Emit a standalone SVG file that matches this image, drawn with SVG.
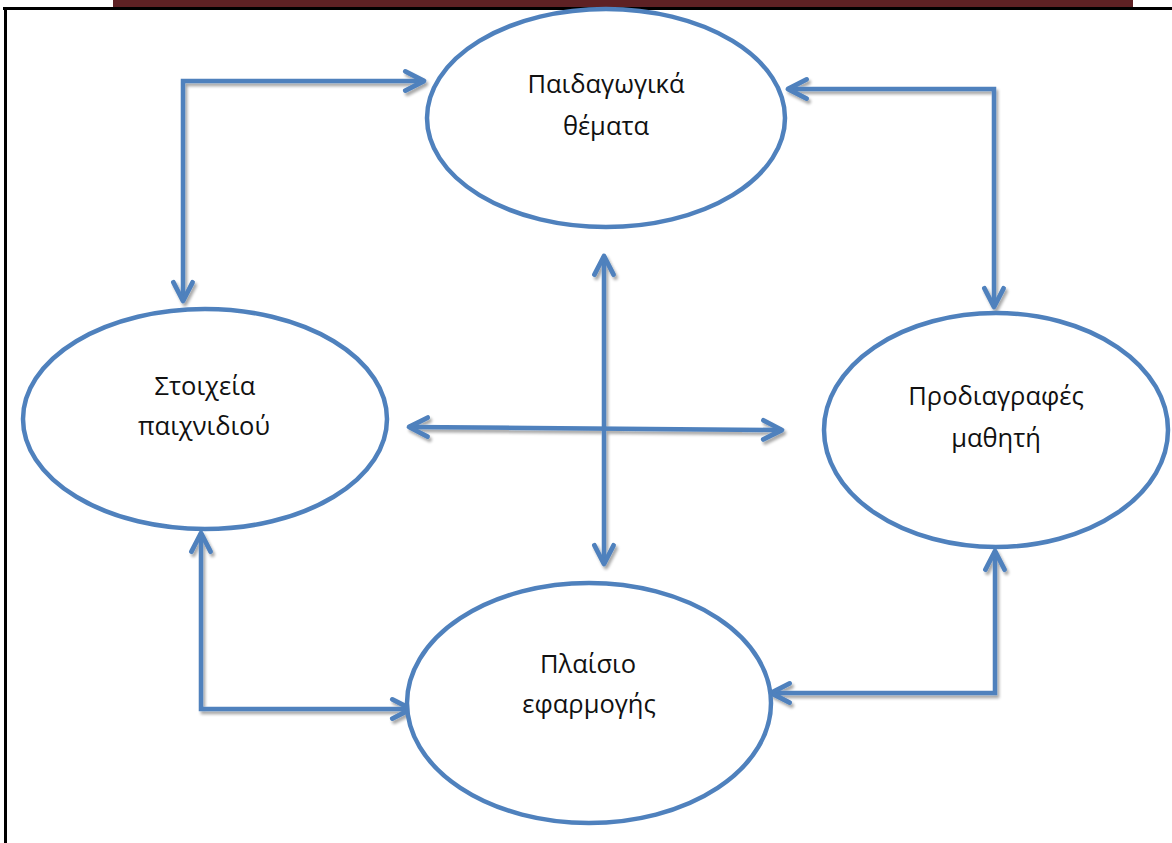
<svg xmlns="http://www.w3.org/2000/svg" width="1172" height="843" viewBox="0 0 1172 843">
  <style>
    .node { fill: #ffffff; stroke: #4f81bd; stroke-width: 4.5; }
    .label { font-family: "Open Sans", "Noto Sans", "DejaVu Sans", sans-serif; font-size: 25.5px; fill: #111111; text-anchor: middle; }
    .link { fill: none; stroke: #4f81bd; stroke-width: 4.5; stroke-linejoin: miter; marker-start: url(#head); marker-end: url(#head); }
  </style>
  <defs>
    <marker id="head" viewBox="0 0 10 10" refX="8.6" refY="5" markerWidth="5.6" markerHeight="5.6" orient="auto-start-reverse" markerUnits="strokeWidth">
      <path d="M1.2,1.2 L8.6,5 L1.2,8.8" fill="none" stroke="#4f81bd" stroke-width="1.9" stroke-linecap="round" stroke-linejoin="round"/>
    </marker>
    <filter id="shade" x="-10%" y="-10%" width="120%" height="120%">
      <feGaussianBlur in="SourceAlpha" stdDeviation="1.6"/>
      <feOffset dx="1.5" dy="2.5" result="b"/>
      <feComponentTransfer><feFuncA type="linear" slope="0.35"/></feComponentTransfer>
      <feMerge><feMergeNode/><feMergeNode in="SourceGraphic"/></feMerge>
    </filter>
  </defs>

  <!-- page frame -->
  <rect x="0" y="0" width="1172" height="843" fill="#ffffff"/>
  <rect x="113" y="0" width="1020" height="7" fill="#5e2124"/>
  <path d="M3,8.5 H1172 M5.5,8 V843" fill="none" stroke="#000000" stroke-width="3"/>

  <!-- connectors -->
  <g id="connectors" filter="url(#shade)">
    <path class="link" d="M183,301 V81 H424"/>
    <path class="link" d="M788,89 H994 V307"/>
    <path class="link" d="M604,256 V564"/>
    <path class="link" d="M409,427 L782,430"/>
    <path class="link" d="M201,533 V709 H411"/>
    <path class="link" d="M771,693 H995 V551"/>
  </g>

  <!-- nodes -->
  <g id="node-pedagogical">
    <ellipse class="node" cx="606" cy="118" rx="179" ry="109"/>
    <text class="label" x="606" y="93">Παιδαγωγικά</text>
    <text class="label" x="606" y="135">θέματα</text>
  </g>
  <g id="node-game-elements">
    <ellipse class="node" cx="205" cy="419" rx="182" ry="110"/>
    <text class="label" x="205" y="395">Στοιχεία</text>
    <text class="label" x="204" y="435">παιχνιδιού</text>
  </g>
  <g id="node-learner-specs">
    <ellipse class="node" cx="996" cy="430" rx="172" ry="117"/>
    <text class="label" x="996" y="405">Προδιαγραφές</text>
    <text class="label" x="996" y="447">μαθητή</text>
  </g>
  <g id="node-application-context">
    <ellipse class="node" cx="589" cy="703" rx="182" ry="120"/>
    <text class="label" x="588" y="673">Πλαίσιο</text>
    <text class="label" x="589" y="713">εφαρμογής</text>
  </g>
</svg>
